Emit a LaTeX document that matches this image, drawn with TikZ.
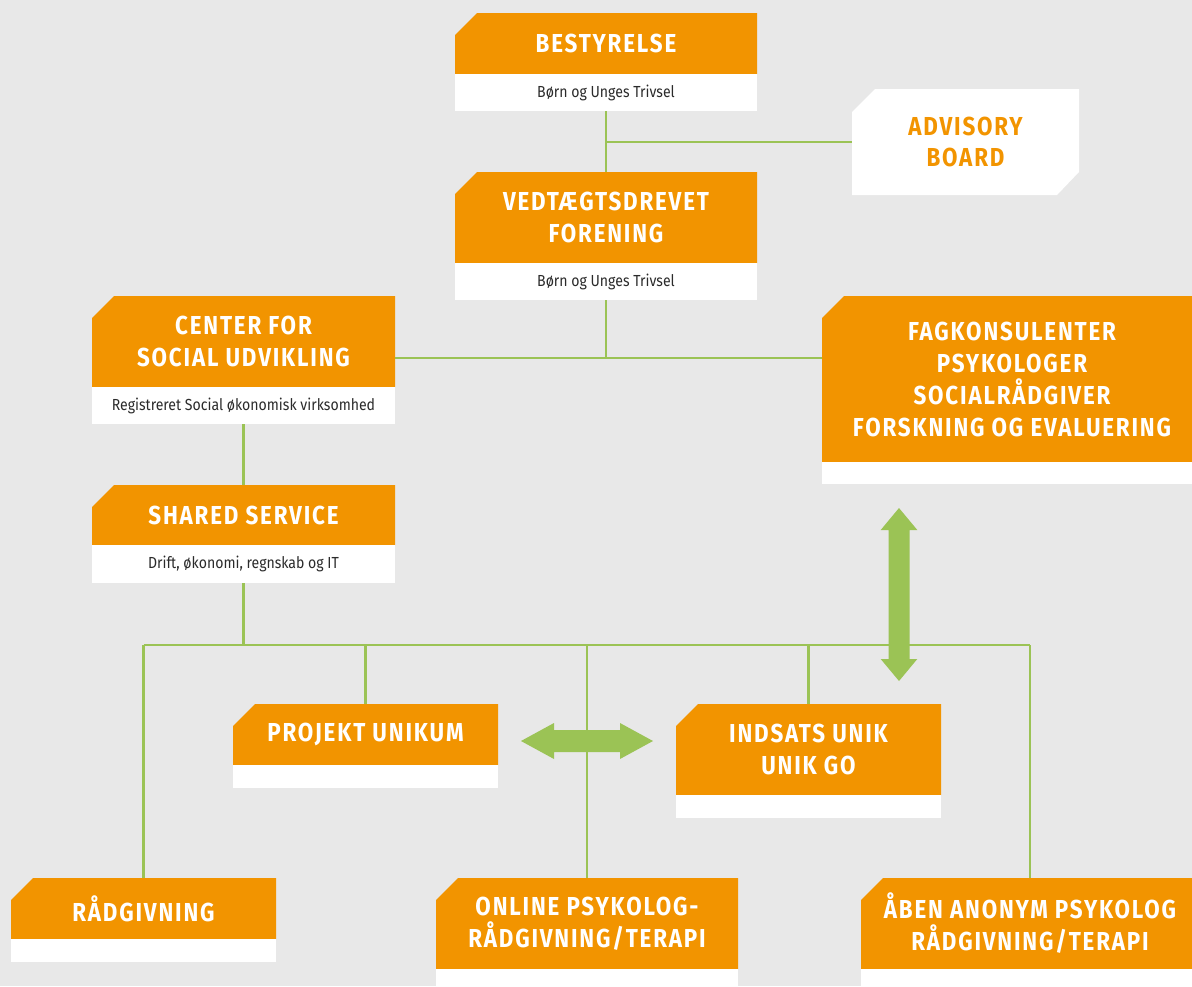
\documentclass[tikz,border=0pt]{standalone}
\usepackage{fontspec}
\setmainfont{Fira Sans}
\newfontfamily\titlefont[FakeStretch=0.86,LetterSpace=7]{Fira Sans}
\newfontfamily\subfont[FakeStretch=0.88]{Fira Sans}
\definecolor{bgcol}{HTML}{E8E8E8}
\definecolor{orgcol}{HTML}{F29400}
\definecolor{grn}{HTML}{9BC355}
\definecolor{subcol}{HTML}{2B2B2B}
\tikzset{
  conn/.style={draw=grn, line width=2.6pt},
  titletext/.style={text=white, font=\titlefont\bfseries\fontsize{26}{32}\selectfont, align=center, inner sep=0pt},
  advtext/.style={text=orgcol, font=\titlefont\bfseries\fontsize{26}{31}\selectfont, align=center, inner sep=0pt},
  subtext/.style={text=subcol, font=\subfont\fontsize{16}{18}\selectfont, inner sep=0pt},
  boxarea/.style={inner sep=0pt, outer sep=0pt}
}
% #1 name, #2 x1, #3 top, #4 x2, #5 orange bottom, #6 bottom, #7 title, #8 subtitle
\newcommand\obox[8]{%
  \fill[orgcol] (#2+22,#3) -- (#4,#3) -- (#4,#5) -- (#2,#5) -- (#2,#3+22) -- cycle;
  \fill[white] (#2,#5) rectangle (#4,#6);
  \node[boxarea, minimum width={#4-#2}, minimum height={#6-#3}] (#1) at ({(#2+#4)/2},{(#3+#6)/2}) {};
  \node[titletext] (#1-title) at ({(#2+#4)/2},{(#3+#5)/2}) {#7};
  \node[subtext] (#1-sub) at ({(#2+#4)/2},{(#5+#6)/2}) {#8};
}
\begin{document}
\begin{tikzpicture}[x=1pt,y=-1pt]
\useasboundingbox (0,0) rectangle (1192,986);
\fill[bgcol] (0,0) rectangle (1192,986);

% boxes
\obox{best}{455}{13}{757}{74}{111}{BESTYRELSE}{Børn og Unges Trivsel}
\obox{ved}{455}{172}{757}{263}{300}{VEDTÆGTSDREVET\\FORENING}{Børn og Unges Trivsel}
\obox{center}{92}{296}{395}{387}{424}{CENTER FOR\\SOCIAL UDVIKLING}{Registreret Social økonomisk virksomhed}
\obox{shared}{92}{485}{395}{545}{583}{SHARED SERVICE}{Drift, økonomi, regnskab og IT}
\obox{fag}{822}{296}{1202}{462}{484}{FAGKONSULENTER\\PSYKOLOGER\\SOCIALRÅDGIVER\\FORSKNING OG EVALUERING}{}
\obox{proj}{233}{704}{498}{765}{788}{PROJEKT UNIKUM}{}
\obox{indsats}{676}{704}{941}{795}{818}{INDSATS UNIK\\UNIK GO}{}
\obox{rad}{11}{878}{276}{939}{962}{RÅDGIVNING}{}
\obox{online}{436}{878}{738}{969}{992}{ONLINE PSYKOLOG-\\RÅDGIVNING/TERAPI}{}
\obox{aben}{861}{878}{1199}{969}{992}{ÅBEN ANONYM PSYKOLOG\\RÅDGIVNING/TERAPI}{}

% advisory board
\fill[white] (875,89) -- (1079,89) -- (1079,172) -- (1057,195) -- (852,195) -- (852,112) -- cycle;
\node[boxarea, minimum width=227, minimum height=106] (adv) at (965.5,142) {};
\node[advtext] (adv-title) at (965.5,142) {ADVISORY\\BOARD};

% double arrows
\coordinate (va) at (899,508);
\coordinate (ha) at (521,741);
\fill[grn] (va) -- ++(18.3,22) -- ++(-7.8,0) -- ++(0,129) -- ++(7.8,0) -- ++(-18.3,22)
  -- ++(-18.3,-22) -- ++(7.8,0) -- ++(0,-129) -- ++(-7.8,0) -- cycle;
\fill[grn] (ha) -- ++(33,-18) -- ++(0,7) -- ++(66,0) -- ++(0,-7) -- ++(33,18)
  -- ++(-33,18) -- ++(0,-7) -- ++(-66,0) -- ++(0,7) -- cycle;

% connectors
\coordinate (hub) at (606,358);
\coordinate (bus) at (0,645);
\draw[conn] (best.south) -- (ved.north);
\draw[conn] (best.south |- adv.west) -- (adv.west);
\draw[conn] (ved.south) -- (hub);
\draw[conn] (center.east |- hub) -- (fag.west |- hub);
\draw[conn] (center.south) -- (shared.north);
\draw[conn] (shared.south) -- (shared.south |- bus);
\draw[conn] (rad.north |- bus) -- (aben.north |- bus);
\draw[conn] (rad.north |- bus) -- (rad.north);
\draw[conn] (proj.north |- bus) -- (proj.north);
\draw[conn] (online.north |- bus) -- (online.north);
\draw[conn] (indsats.north |- bus) -- (indsats.north);
\draw[conn] (aben.north |- bus) -- (aben.north);
\end{tikzpicture}
\end{document}
